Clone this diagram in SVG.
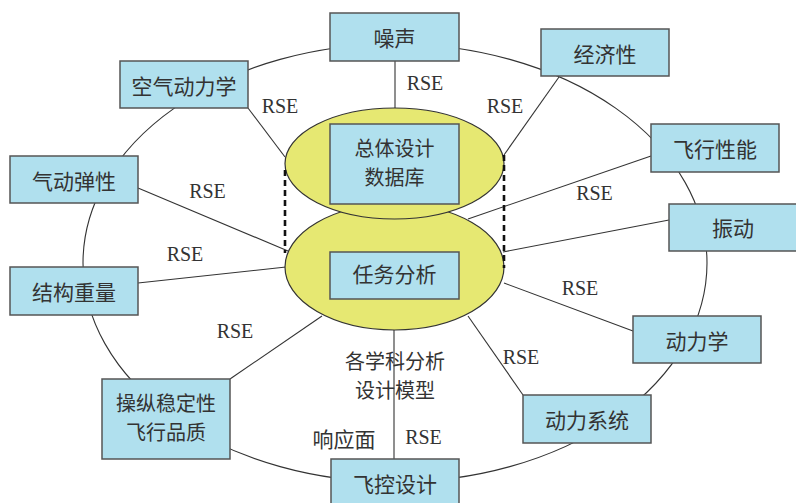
<svg xmlns="http://www.w3.org/2000/svg" width="796" height="503" viewBox="0 0 796 503">
<style>
.box{fill:#B0E0EE;stroke:#555;stroke-width:1.5}
.ell{fill:#E6E872;stroke:#333;stroke-width:1.2}
.ln{stroke:#333;stroke-width:1.1;fill:none}
.dash{stroke:#111;stroke-width:2.6;stroke-dasharray:6,4;fill:none}
.t{font-family:"Noto Sans CJK SC","Noto Sans CJK JP",sans-serif;font-size:21px;fill:#333;text-anchor:middle;dominant-baseline:central}
.t2{font-size:20px}
.r{font-family:"Liberation Serif",serif;font-size:20px;fill:#333;text-anchor:middle}
</style>
<rect width="796" height="503" fill="#fff"/>
<g id="connectors">
<ellipse class="ln" cx="395" cy="263" rx="312" ry="219"/>
<line class="ln" x1="395" y1="61" x2="395" y2="108"/>
<line class="ln" x1="248" y1="108" x2="285" y2="157"/>
<line class="ln" x1="138" y1="188" x2="288" y2="251"/>
<line class="ln" x1="138" y1="283" x2="286" y2="267"/>
<line class="ln" x1="230" y1="379" x2="322" y2="316"/>
<line class="ln" x1="394" y1="459" x2="394" y2="330"/>
<line class="ln" x1="523" y1="395" x2="468" y2="316"/>
<line class="ln" x1="633" y1="331" x2="504" y2="283"/>
<line class="ln" x1="669" y1="220" x2="503" y2="252"/>
<line class="ln" x1="651" y1="156" x2="468" y2="219"/>
<line class="ln" x1="559" y1="77" x2="504" y2="155"/>
</g>
<g id="task">
<ellipse class="ell" cx="394.5" cy="267" rx="109.5" ry="63"/>
<rect class="box" x="330" y="252" width="129" height="47"/>
<text class="t" x="394.5" y="273">任务分析</text>
</g>
<g id="database">
<ellipse class="ell" cx="394.5" cy="163.5" rx="109.5" ry="55.5"/>
<rect class="box" x="330" y="124" width="129" height="80"/>
<text class="t t2" x="394.5" y="147.5">总体设计</text>
<text class="t t2" x="394.5" y="176.5">数据库</text>
</g>
<g id="dashes">
<line class="dash" x1="285" y1="170" x2="285" y2="253"/>
<line class="dash" x1="504" y1="155" x2="504" y2="268"/>
</g>
<g id="noise"><rect class="box" x="330" y="13" width="129" height="48"/><text class="t" x="394.5" y="37">噪声</text></g>
<g id="aero"><rect class="box" x="120" y="61" width="128" height="47"/><text class="t" x="184" y="84.5">空气动力学</text></g>
<g id="aeroelastic"><rect class="box" x="10" y="156" width="128" height="47"/><text class="t" x="74" y="179.5">气动弹性</text></g>
<g id="weight"><rect class="box" x="10" y="267" width="128" height="48"/><text class="t" x="74" y="291">结构重量</text></g>
<g id="handling"><rect class="box" x="102" y="379" width="128" height="80"/><text class="t t2" x="166" y="402.5">操纵稳定性</text><text class="t t2" x="166" y="431.5">飞行品质</text></g>
<g id="fcs"><rect class="box" x="331" y="459" width="128" height="46"/><text class="t" x="395" y="483">飞控设计</text></g>
<g id="economy"><rect class="box" x="541" y="29" width="128" height="47"/><text class="t" x="605" y="52.5">经济性</text></g>
<g id="performance"><rect class="box" x="651" y="124" width="128" height="48"/><text class="t" x="715" y="148">飞行性能</text></g>
<g id="vibration"><rect class="box" x="669" y="204" width="128" height="47"/><text class="t" x="733" y="227">振动</text></g>
<g id="dynamics"><rect class="box" x="633" y="316" width="128" height="47"/><text class="t" x="697" y="339.5">动力学</text></g>
<g id="propulsion"><rect class="box" x="523" y="395" width="128" height="48"/><text class="t" x="587" y="419">动力系统</text></g>
<g id="labels">
<text class="r" x="425" y="90">RSE</text>
<text class="r" x="280" y="113">RSE</text>
<text class="r" x="505" y="113">RSE</text>
<text class="r" x="207.5" y="198">RSE</text>
<text class="r" x="594.5" y="200">RSE</text>
<text class="r" x="185" y="261">RSE</text>
<text class="r" x="235" y="338">RSE</text>
<text class="r" x="580" y="295">RSE</text>
<text class="r" x="521" y="364">RSE</text>
<text class="r" x="423.5" y="444">RSE</text>
<text class="t t2" x="395" y="360.5">各学科分析</text>
<text class="t t2" x="395" y="389.5">设计模型</text>
<text class="t" x="344" y="438">响应面</text>
</g>
</svg>
